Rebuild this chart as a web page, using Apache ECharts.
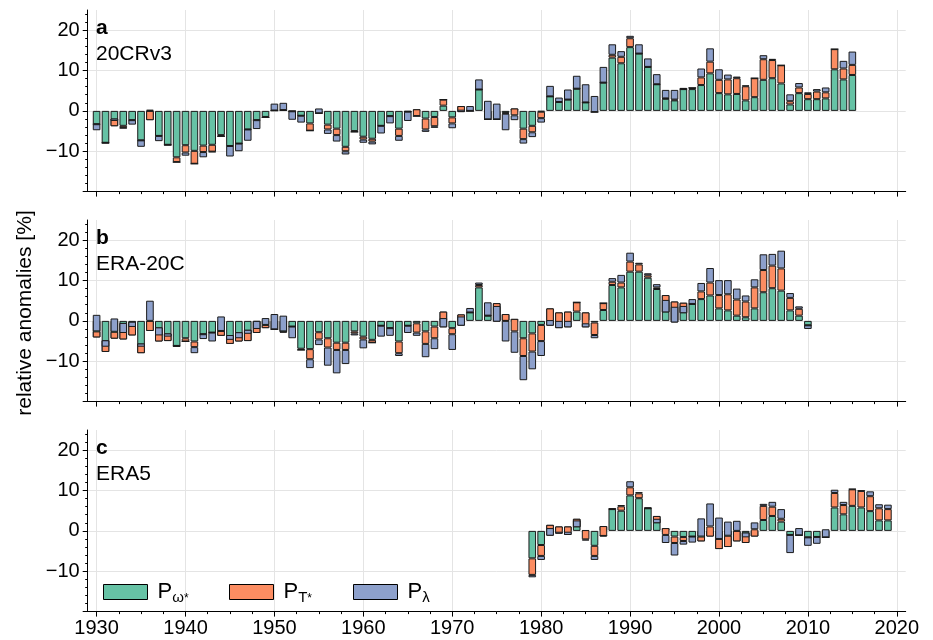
<!DOCTYPE html>
<html>
<head>
<meta charset="utf-8">
<script src="https://cdn.jsdelivr.net/npm/echarts@6/dist/echarts.min.js"></script>
<style>
  html, body { margin: 0; padding: 0; background: #fff; }
  #chart { width: 933px; height: 640px; }
</style>
</head>
<body>
<div id="chart"></div>
<script>
// reading order of every stack: P_omega* (green), P_T* (orange), P_lambda (blue)
// bars are stacked cumulatively, each one on top of the previous (like matplotlib bottom=)

// --- panel a : 20CRv3, 1930-2015
const startA = 1930
const omegaA = [-3.3, -7.9, -3.8, -3.7, -2.3, -7.3, -2.3, -6.2, -8.4, -11.5,
  -8.5, -9.9, -8.6, -8.4, -6.0, -8.7, -8.1, -4.6, -2.3, -1.5,
  0.1, 0.2, -0.1, -1.2, -3.1, -0.6, -3.4, -4.4, -8.9, -5.0,
  -6.4, -6.9, -3.7, -1.3, -4.4, -0.2, 0.4, -1.9, -1.5, 1.3,
  -1.6, 1.2, 0, 5.3, -2.1, -2.1, -0.5, 0.6, -4.4, -3.7,
  -0.2, 3.6, 2.2, 2.8, 5.5, 2.1, -0.3, 7.0, 13.2, 11.8,
  15.8, 14.2, 10.9, 6.6, 3.0, 2.6, 5.4, 5.4, 6.4, 9.3,
  4.4, 4.1, 4.2, 2.6, 3.4, 7.7, 8.1, 6.8, 1.6, 4.4,
  2.9, 2.9, 3.1, 10.3, 7.8, 8.9]
const tempA = [0, 0, 1.9, -0.5, 0, 0, 2.3, 0, 0, -1.2,
  -1.8, -3.2, -1.6, -1.7, -0.3, 0, 0, 0, 0, -0.1,
  0, 0, 0, 0, -1.8, 0, -1.2, -1.6, -1.1, -0.2,
  -0.7, -0.7, 0, 0, -1.8, 0, -1.7, -2.7, -2.3, 1.5,
  -1.5, -1.5, 0, 0, 0, 0, -0.2, -1.7, -2.6, -1.6,
  -1.6, 0, 0, 0, 0, 0, 0, 0, 0.7, 1.6,
  2.2, 0, 0, 0, 0.1, 0.2, 0, 0.3, 1.9, 2.9,
  3.3, 3.7, 3.9, 3.5, 4.7, 5.1, 4.5, 4.5, 0.8, 1.4,
  1.3, 1.9, 1.5, 5.0, 2.7, 2.5]
const lambdaA = [-1.5, -0.1, -0.6, -0.1, -1.1, -1.6, 0.3, -1.3, -0.1, 0,
  -0.8, 0, -1.3, -0.1, 0, -2.6, -1.9, -2.8, -2.2, 0,
  1.7, 1.8, -2.1, -1.7, 0, 1.2, -1.1, -1.6, -0.8, 0,
  -0.8, -0.7, -1.9, -1.8, -1.2, -2.3, 0, -0.6, -0.4, 0,
  -1.2, 0.6, 1.2, 2.5, 4.6, 3.9, -4.1, -1.2, -1.1, -1.2,
  -1.1, 2.6, 1.1, 2.5, 3.2, 4.5, 4.0, 3.9, 2.6, 1.4,
  0.6, 2.3, 2.1, 2.5, 2.1, 2.4, 0.3, 0, 2.2, 3.3,
  2.6, 1.2, 0.4, 0.2, 0, 1.0, 0.3, 0, 1.7, 1.1,
  0.4, 0.6, 1.2, 0, 1.9, 3.3]

// --- panel b : ERA-20C, 1930-2010
const startB = 1930
const omegaB = [-4.1, -7.7, -4.4, -4.6, -3.6, -8.0, -2.5, -5.1, -5.0, -6.2,
  -4.3, -5.1, -3.3, -2.9, -3.7, -5.7, -5.1, -5.0, -3.0, -1.8,
  -2.1, -2.9, -1.4, -6.9, -7.0, -2.8, -4.3, -5.4, -5.4, -2.6,
  -3.9, -4.7, -1.2, -1.8, -5.1, -1.2, -0.6, -2.6, -1.4, 2.3,
  -1.8, 1.6, 2.1, 8.3, 1.3, 4.4, 1.7, 0.5, -4.3, -3.1,
  -1.0, 3.1, 2.1, 2.3, 2.3, 2.1, -0.4, 2.7, 8.9, 8.3,
  12.2, 12.2, 10.7, 7.9, 6.4, 4.8, 4.5, 4.2, 5.4, 6.3,
  3.1, 2.6, 1.3, 0.9, 3.1, 7.1, 8.1, 7.5, 2.6, 1.3,
  -1.1]
const tempB = [1.5, 2.9, 1.7, 4.1, 3.4, 2.4, 2.5, 3.5, 1.9, 0,
  -0.8, -1.4, 0, 0, 1.2, 2.2, 2.3, 2.8, 3.0, 0.8,
  0, 0.3, 0, -0.3, -2.5, -1.8, -2.3, -1.8, -1.8, -0.5,
  -0.7, -0.7, 0, 0, -2.9, 0, -2.3, -3.1, -2.9, -3.9,
  -1.5, -2.8, 0, 0.6, 0, -4.6, -1.7, -3.1, -4.4, -4.5,
  -4.0, -4.3, -3.9, -3.9, 2.3, -3.7, -3.1, 1.7, 0.8, 1.2,
  2.5, 1.8, 0.6, 0.4, -4.3, -5.2, -2.6, 0, 1.9, 3.2,
  3.3, 4.0, 4.0, 3.9, 5.2, 5.5, 5.6, 5.5, 3.1, 1.7,
  0]
const lambdaB = [4.1, -1.6, 3.3, -2.5, -1.3, -0.8, 5.0, -2.0, -0.8, -0.2,
  0, -1.5, -1.2, -2.2, 3.6, -1.2, -1.5, -1.0, -2.0, 1.7,
  3.8, 3.9, -2.9, 0, -2.2, -1.4, -4.5, -5.8, -3.5, -0.5,
  -2.2, 0, -2.7, -1.9, -0.7, -1.8, -0.8, -3.3, -2.7, 2.3,
  -3.9, 2.3, 1.1, 0.6, 3.3, 3.9, -5.1, -5.3, -6.0, -4.4,
  -3.7, 1.4, 1.8, 1.6, 0, 1.0, -0.8, 0, 0.9, 1.9,
  2.2, 0.4, 0.5, 0.8, 3.1, 3.9, 1.8, 1.2, 2.1, 3.6,
  3.7, 3.5, 2.7, 1.5, 2.0, 3.9, 2.9, 4.4, 1.2, 0.6,
  -0.9]

// --- panel c : ERA5, 1979-2019
const startC = 1979
const omegaC = [-6.8, -3.5, 1.5, 1.1, 1.1, 3.0, 0.2, -3.7, 1.2, 5.4,
  5.0, 8.8, 8.1, 5.6, 3.7, 0.7, -1.4, -1.5, -1.4, -2.6,
  -1.4, -4.5, -4.0, -2.6, -3.0, -1.4, 2.7, 3.7, 2.3, -1.0,
  -1.1, -1.6, -1.5, -1.6, 5.8, 4.1, 6.2, 5.8, 4.9, 2.6,
  2.6]
const tempC = [-4.1, -2.7, -2.7, -1.8, -2.1, -2.1, -2.3, -2.5, -2.6, 0,
  1.1, 2.0, 1.2, 0, -1.8, -1.7, -1.6, -1.0, 0, 1.2,
  2.5, 2.5, 2.8, 2.6, 2.6, 1.8, 3.5, 2.3, 0.7, 0,
  0, 0, 0, 0, 3.6, 2.3, 4.1, 4.1, 3.7, 3.0,
  2.8]
const lambdaC = [-0.6, -1.0, 1.9, 0.5, 0.8, 1.7, -0.3, -1.0, 0.4, 0.2,
  0.3, 1.5, 0.3, 0.2, 1.1, -2.0, -3.1, -0.9, -1.5, 4.5,
  5.7, 5.3, 3.5, 2.5, -1.2, 1.7, 0.5, 1.2, 2.4, -4.5,
  1.8, -2.1, -1.7, 2.0, 0.8, 0.8, 0.1, 0.1, 1.2, 1.0,
  1.1]

const panelLetters = ['a', 'b', 'c']
const panelNames = ['20CRv3', 'ERA-20C', 'ERA5']
const xTicks = [1930, 1940, 1950, 1960, 1970, 1980, 1990, 2000, 2010, 2020]
const yTicks = [-20, -10, 0, 10, 20]
const yLabels = [-10, 0, 10, 20]
const yMinor = [-18, -16, -14, -12, -8, -6, -4, -2, 2, 4, 6, 8, 12, 14, 16, 18, 22, 24]

const FONT = '"Liberation Sans", Arial, Helvetica, sans-serif'
const COLORS = ['#66c2a5', '#fc8d62', '#8da0cb']
const NAMES = ['P_omega', 'P_T', 'P_lambda']

// x range 1929 .. 2021 as categories (bars sit on them)
const cats = []
for (let y = 1929; y <= 2021; y++) cats.push(String(y))
const xMinor = []
xTicks.slice(0, -1).forEach(t => xMinor.push(t + 2.5, t + 5, t + 7.5))

const GRID_TOP = [10, 220, 430]
const GRID_H = 181.6
const GRID_LEFT = 87.7
const GRID_W = 818

const panels = [
  { start: startA, vals: [omegaA, tempA, lambdaA] },
  { start: startB, vals: [omegaB, tempB, lambdaB] },
  { start: startC, vals: [omegaC, tempC, lambdaC] }
]

const fmtY = v => (v < 0 ? '\u2212' + Math.abs(v) : String(v))

const grid = []
const xAxis = []
const yAxis = []
const series = []

panels.forEach((p, i) => {
  grid.push({ left: GRID_LEFT, top: GRID_TOP[i], width: GRID_W, height: GRID_H })
  // hidden category axis carrying the bars
  xAxis.push({
    type: 'category', gridIndex: i, data: cats, boundaryGap: false, show: false
  })
  // visible major axis
  xAxis.push({
    type: 'value', gridIndex: i, min: 1929, max: 2021, position: 'bottom',
    axisLine: { show: true, onZero: false, lineStyle: { color: '#000', width: 1 } },
    axisTick: { show: true, length: 5, customValues: xTicks, lineStyle: { color: '#000', width: 1 } },
    axisLabel: {
      show: i === 2, customValues: xTicks, margin: 7, formatter: v => String(v),
      fontSize: 20, fontFamily: FONT, color: '#000'
    },
    splitLine: { show: true, lineStyle: { color: '#e4e4e4', width: 1 } }
  })
  // minor ticks
  xAxis.push({
    type: 'value', gridIndex: i, min: 1929, max: 2021, position: 'bottom',
    axisLine: { show: false, onZero: false },
    axisTick: { show: true, length: 2.5, customValues: xMinor, lineStyle: { color: '#000', width: 1 } },
    axisLabel: { show: false },
    splitLine: { show: false }
  })
  yAxis.push({
    type: 'value', gridIndex: i, min: -20, max: 25, position: 'left',
    axisLine: { show: true, onZero: false, lineStyle: { color: '#000', width: 1 } },
    axisTick: { show: true, length: 5, customValues: yTicks, lineStyle: { color: '#000', width: 1 } },
    axisLabel: {
      show: true, customValues: yLabels, formatter: fmtY, margin: 8,
      fontSize: 20, fontFamily: FONT, color: '#000'
    },
    splitLine: { show: true, lineStyle: { color: '#e4e4e4', width: 1 } }
  })
  yAxis.push({
    type: 'value', gridIndex: i, min: -20, max: 25, position: 'left',
    axisLine: { show: false, onZero: false },
    axisTick: { show: true, length: 2.5, customValues: yMinor, lineStyle: { color: '#000', width: 1 } },
    axisLabel: { show: false },
    splitLine: { show: false }
  })

  p.vals.forEach((vals, k) => {
    series.push({
      name: NAMES[k],
      type: 'bar',
      xAxisIndex: 3 * i,
      yAxisIndex: 2 * i,
      stack: 'panel' + i,
      stackStrategy: 'all',
      barWidth: 7.6,
      data: vals.map((v, j) => [String(p.start + j), v]),
      itemStyle: { color: COLORS[k], borderColor: '#1a1a1a', borderWidth: 1 },
      emphasis: { disabled: true }
    })
  })
})

const legendText = {
  P_omega: '{p|P}{s|\u03c9}{t|*}',
  P_T: '{p|P}{s|T}{t|*}',
  P_lambda: '{p|P}{s|\u03bb}'
}
const rich = {
  p: { fontSize: 22, fontFamily: FONT, color: '#000', lineHeight: 26, padding: [0, 0, 0, 5] },
  s: { fontSize: 15, fontFamily: FONT, color: '#000', lineHeight: 12, verticalAlign: 'bottom' },
  t: { fontSize: 12, fontFamily: FONT, color: '#000', lineHeight: 19, verticalAlign: 'bottom' }
}
const legendLeft = [98, 224, 348]
const legend = NAMES.map((n, k) => ({
  data: [n],
  left: legendLeft[k],
  top: 576,
  icon: 'rect',
  itemWidth: 44,
  itemHeight: 15,
  selectedMode: false,
  itemStyle: { borderColor: '#000', borderWidth: 1 },
  formatter: name => legendText[name],
  textStyle: { rich: rich }
}))

const graphic = []
panelLetters.forEach((l, i) => {
  graphic.push({
    type: 'text', x: 96, y: GRID_TOP[i] + 18, z: 100,
    style: { text: l, font: 'bold 21px ' + FONT, fill: '#000', textVerticalAlign: 'middle' }
  })
  graphic.push({
    type: 'text', x: 96, y: GRID_TOP[i] + 44, z: 100,
    style: { text: panelNames[i], font: '21px ' + FONT, fill: '#000', textVerticalAlign: 'middle' }
  })
})
graphic.push({
  type: 'text', x: 25, y: 313, rotation: Math.PI / 2, z: 100,
  style: {
    text: 'relative anomalies [%]', font: '21px ' + FONT, fill: '#000',
    textAlign: 'center', textVerticalAlign: 'middle'
  }
})

const chart = echarts.init(document.getElementById('chart'), null, { renderer: 'canvas' })
chart.setOption({
  animation: false,
  backgroundColor: '#fff',
  grid, xAxis, yAxis, series, legend, graphic
})
</script>
</body>
</html>
